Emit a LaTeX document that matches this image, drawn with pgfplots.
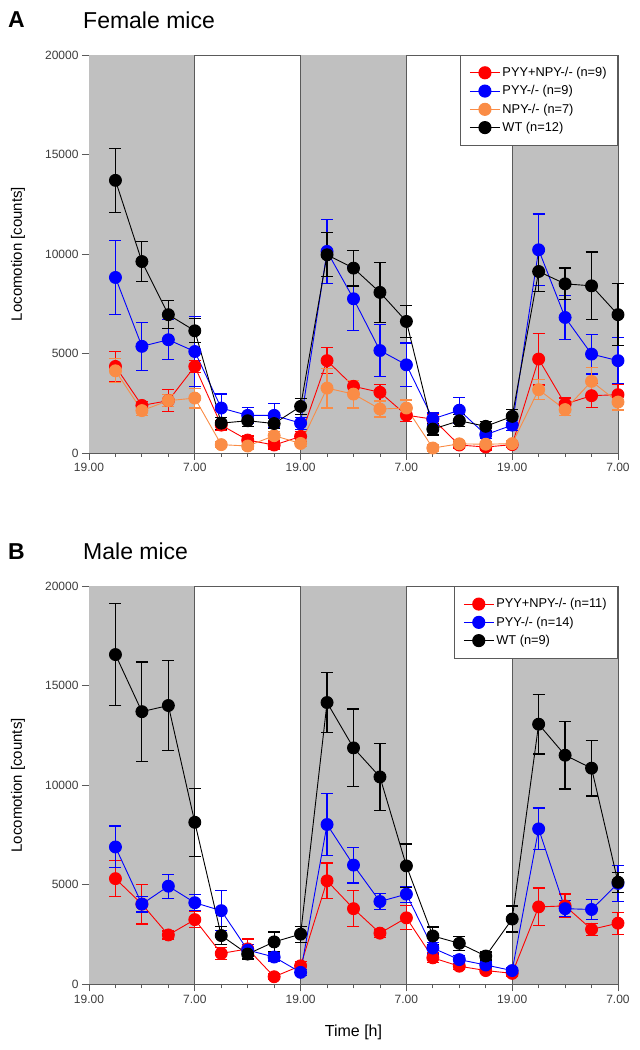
\documentclass[border=0pt]{standalone}
\usepackage{fontspec}
\setmainfont{Liberation Sans}
\usepackage{pgfplots}
\usepackage{pgfplotstable}
\pgfplotsset{compat=1.18}

\definecolor{cRed}{RGB}{255,0,0}
\definecolor{cBlue}{RGB}{0,0,255}
\definecolor{cOrange}{RGB}{250,140,70}
\definecolor{cShade}{RGB}{192,192,192}
\definecolor{cLine}{RGB}{90,90,90}
\definecolor{cTick}{RGB}{60,60,60}

% Female mice: x = hours since first 19.00
\pgfplotstableread{
x  r    re   b     be   o    oe   k     ke
3  4350 750  8820  1850 4130 600  13700 1600
6  2390 200  5360  1200 2130 250  9620  1000
9  2630 550  5690  1000 2630 300  6950  700
12 4350 300  5100  1750 2760 500  6140  600
15 1400 250  2260  700  420  150  1500  300
18 650  200  1890  400  350  150  1620  300
21 400  200  1890  600  870  200  1480  250
24 830  250  1500  300  480  150  2340  400
27 4640 650  10130 1600 3260 1000 9960  1100
30 3350 300  7750  1600 2960 700  9290  900
33 3050 400  5150  1300 2210 400  8070  1500
36 1900 300  4430  1100 2260 400  6610  800
39 1700 250  1710  300  250  150  1200  300
42 400  150  2150  650  460  150  1620  300
45 300  150  920   200  440  150  1340  250
48 420  150  1400  250  470  150  1840  350
51 4720 1300 10210 1800 3180 500  9120  1000
54 2460 300  6810  1100 2180 300  8500  800
57 2880 600  4970  1000 3600 700  8400  1700
60 2930 500  4640  1150 2560 400  6950  1550
}\female

% Male mice
\pgfplotstableread{
x  r    re   b    be   k     ke
3  5310 900  6900 1050 16570 2550
6  4030 1000 4030 400  13700 2500
9  2480 200  4930 600  14010 2250
12 3250 400  4100 400  8140  1700
15 1550 300  3700 1000 2450  450
18 1780 500  1720 300  1520  250
21 380  150  1370 200  2130  500
24 930  200  600  150  2520  400
27 5200 900  8030 1570 14160 1500
30 3800 900  5990 900  11880 1950
33 2570 200  4160 400  10420 1700
36 3340 600  4530 400  5950  1100
39 1330 250  1820 300  2430  450
42 910  150  1240 200  2060  350
45 690  150  970  150  1420  200
48 550  150  690  150  3280  650
51 3890 950  7810 1050 13070 1500
54 3940 600  3800 400  11510 1700
57 2760 300  3760 500  10860 1400
60 3070 550  5070 900  5130  500
}\male

\pgfplotsset{
  panel/.style={
    width=529pt, height=398pt, scale only axis,
    xmin=0, xmax=60, ymin=0, ymax=20000,
    clip=false,
    axis line style={cLine, line width=0.8pt},
    xtick={0,12,24,36,48,60},
    xticklabels={19.00,7.00,19.00,7.00,19.00,7.00},
    minor xtick={3,6,9,15,18,21,27,30,33,39,42,45,51,54,57},
    ytick={0,5000,10000,15000,20000},
    tick align=outside,
    xtick pos=bottom, ytick pos=left,
    major tick length=7pt, minor tick length=4pt,
    every tick/.style={cLine, line width=0.8pt},
    scaled y ticks=false,
    ticklabel style={font=\fontsize{12}{14}\selectfont, text=cTick},
    ylabel={Locomotion [counts]},
    ylabel style={at={(axis description cs:-0.1342,0.5)}, anchor=center, font=\fontsize{15}{18}\selectfont},
    legend style={at={(1,1)}, anchor=north east, draw=cLine, line width=0.8pt, fill=white,
      font=\fontsize{12.8}{15}\selectfont, inner xsep=9pt, inner ysep=10pt, row sep=3.5pt,
      cells={anchor=west}},
    legend image code/.code={\draw[line width=1.1pt, mark repeat=2, mark phase=2] plot coordinates {(0pt,0pt) (15pt,0pt) (30pt,0pt)};},
    /pgf/number format/1000 sep={},
    /pgf/number format/assume math mode=true,
  },
  ser/.style={#1, line width=0.9pt, mark=*, mark size=6pt,
    mark options={fill=#1, draw=#1, solid},
    error bars/.cd, y dir=both, y explicit,
    error bar style={line width=1.2pt, #1},
    error mark options={rotate=90, mark size=6pt, line width=1.2pt, #1}},
}

\newcommand{\nightbands}{%
  \fill[cShade] (axis cs:0,0) rectangle (axis cs:12,20000);
  \fill[cShade] (axis cs:24,0) rectangle (axis cs:36,20000);
  \fill[cShade] (axis cs:48,0) rectangle (axis cs:60,20000);
  \draw[cLine, line width=0.8pt] (axis cs:12,0) -- (axis cs:12,20000);
  \draw[cLine, line width=0.8pt] (axis cs:24,0) -- (axis cs:24,20000);
  \draw[cLine, line width=0.8pt] (axis cs:36,0) -- (axis cs:36,20000);
  \draw[cLine, line width=0.8pt] (axis cs:48,0) -- (axis cs:48,20000);
}

\begin{document}
\begin{tikzpicture}[x=1pt,y=1pt]
\path[use as bounding box] (0,0) rectangle (640,1050);

\node[anchor=west, inner sep=0pt, font=\fontsize{23}{27}\selectfont\bfseries] at (8,1030) {A};
\node[anchor=west, inner sep=0pt, font=\fontsize{23}{27}\selectfont] at (83,1030) {Female mice};

\begin{axis}[panel, at={(89pt,597pt)}, anchor=south west]
\nightbands
\addplot[ser=cRed] table[x=x, y=r, y error=re] {\female};
\addlegendentry{PYY+NPY-/- (n=9)}
\addplot[ser=cBlue] table[x=x, y=b, y error=be] {\female};
\addlegendentry{PYY-/- (n=9)}
\addplot[ser=cOrange] table[x=x, y=o, y error=oe] {\female};
\addlegendentry{NPY-/- (n=7)}
\addplot[ser=black] table[x=x, y=k, y error=ke] {\female};
\addlegendentry{WT (n=12)}
\end{axis}

\node[anchor=west, inner sep=0pt, font=\fontsize{23}{27}\selectfont\bfseries] at (8,498.3) {B};
\node[anchor=west, inner sep=0pt, font=\fontsize{23}{27}\selectfont] at (83,498.3) {Male mice};

\begin{axis}[panel, at={(89pt,65.7pt)}, anchor=south west,
  xlabel={Time [h]},
  xlabel style={at={(axis description cs:0.5,-0.1206)}, anchor=center, font=\fontsize{16}{19}\selectfont}]
\nightbands
\addplot[ser=cRed] table[x=x, y=r, y error=re] {\male};
\addlegendentry{PYY+NPY-/- (n=11)}
\addplot[ser=cBlue] table[x=x, y=b, y error=be] {\male};
\addlegendentry{PYY-/- (n=14)}
\addplot[ser=black] table[x=x, y=k, y error=ke] {\male};
\addlegendentry{WT (n=9)}
\end{axis}
\end{tikzpicture}
\end{document}
